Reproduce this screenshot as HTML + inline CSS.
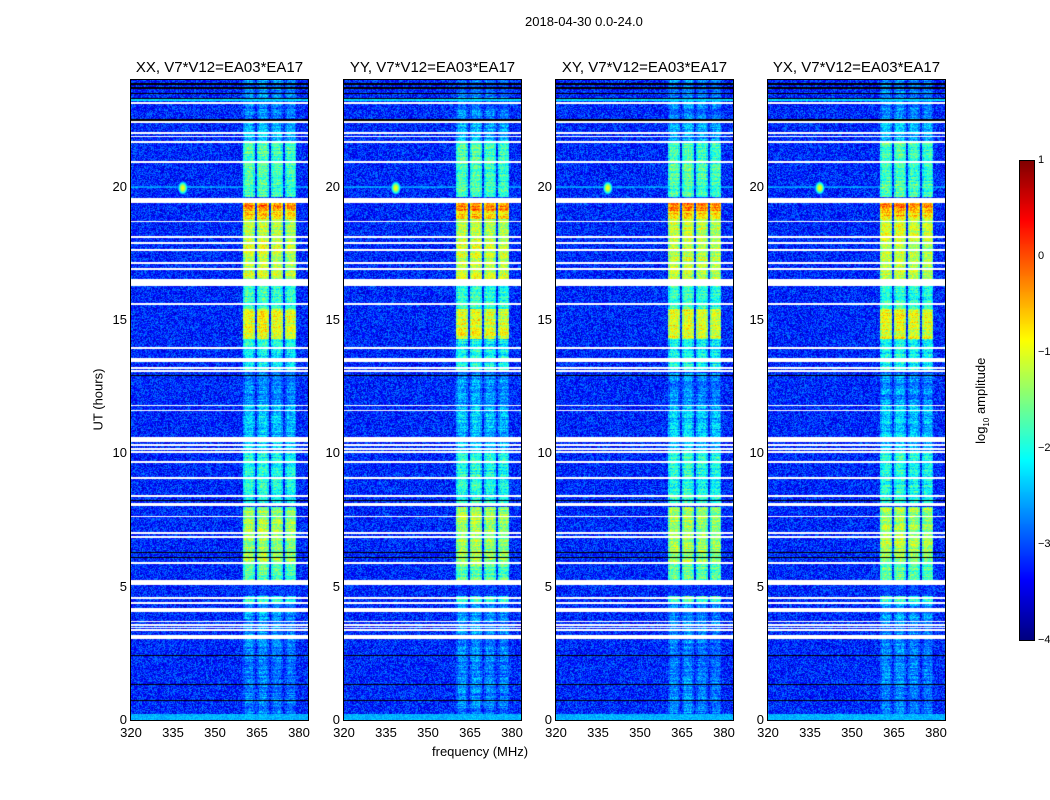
<!DOCTYPE html>
<html><head><meta charset="utf-8">
<style>
body{margin:0;background:#fff;width:1050px;height:800px;overflow:hidden;font-family:"Liberation Sans",sans-serif;}
#wrap{position:relative;width:1050px;height:800px;}
.t{position:absolute;white-space:nowrap;color:#000;}
canvas{position:absolute;}
.ax{position:absolute;border:1px solid #000;box-sizing:border-box;pointer-events:none;}
</style></head>
<body>
<div id="wrap">
<div class="t" style="left:525px;top:14px;font-size:13px;">2018-04-30 0.0-24.0</div>
<div class="t" style="left:48px;top:392px;font-size:13px;transform:rotate(-90deg);width:100px;text-align:center;">UT (hours)</div>
<div class="t" style="left:432px;top:744px;font-size:13px;">frequency (MHz)</div>
<div class="t" style="left:922px;top:392px;font-size:13px;transform:rotate(-90deg);width:120px;text-align:center;">log<sub style="font-size:8px">10</sub> amplitude</div>
<canvas id="cb" width="15" height="480" style="left:1019px;top:160px;"></canvas>
<div class="ax" style="left:1019px;top:160px;width:16px;height:481px;"></div>
</div>
<script>
// ---- data ----
const panelTitles = ["XX, V7*V12=EA03*EA17","YY, V7*V12=EA03*EA17","XY, V7*V12=EA03*EA17","YX, V7*V12=EA03*EA17"];
const xTicks = [320,335,350,365,380];
const yTicks = [0,5,10,15,20];
const cbTicks = [1,0,-1,-2,-3,-4];
// white flagged gaps: [startHour, endHour]
const gapStart = [23.10,22.40,21.98,21.85,21.64,20.89,19.40,18.66,18.08,17.85,17.60,17.10,16.88,16.28,15.57,13.92,13.42,13.18,13.06,11.77,11.58,10.44,10.29,10.13,10.02,9.64,9.04,8.38,8.03,7.60,6.98,6.83,5.85,5.08,4.54,4.35,4.04,3.67,3.54,3.44,3.35,3.05];
const gapEnd   = [23.16,22.46,22.04,21.91,21.70,20.95,19.58,18.72,18.14,17.91,17.66,17.16,16.94,16.52,15.63,13.98,13.58,13.24,13.12,11.83,11.64,10.62,10.35,10.19,10.08,9.70,9.10,8.44,8.15,7.66,7.04,6.89,5.91,5.24,4.60,4.41,4.20,3.73,3.60,3.50,3.41,3.20];
// black (zero) lines, hours
const blackLines = [23.87,23.72,23.52,23.33,22.52,12.94,8.25,6.29,6.10,2.44,1.34,0.75];
// band (RFI channel) time segments with log10 amplitude
const segStart = [0,3.2,4.4,5.25,5.9,8.1,10.0,11.8,13.1,14.3,15.4,16.5,18.8,19.1,19.6,21.7,22.38,22.5];
const segEnd   = [3.05,4.4,4.65,5.9,8.0,10.0,11.8,13.0,14.3,15.4,16.3,18.8,19.1,19.4,21.7,22.38,22.5,24];
const segLevel = [-2.8,-2.7,-1.9,-1.7,-1.35,-2.0,-2.4,-2.7,-2.1,-1.0,-1.9,-1.2,-0.7,-0.3,-1.8,-2.5,-0.7,-2.8];
// channel frequency ranges (MHz)
const chanLo = [360,365,370,375];
const chanHi = [364.2,369.2,374.2,379];
const chanGain = [0.05,0.1,0,-0.05];
// full-width row features [start,end,level]
const rowStart = [23.2,0,20.0,19.95];
const rowEnd   = [23.32,0.22,20.02,19.98];
const rowLevel = [-2.3,-2.5,-2.7,-2.6];
const bgLevel = -3.2;
// ---- layout ----
const panelLeft = [131,344,556,768];
const pw=177, ph=640, top0=80;
const fMin=320, fMax=383.2, tMax=24;
const fx = f => (f-fMin)/(fMax-fMin)*pw;
const ty = h => ph - h/tMax*ph;
function jet(t){t=Math.max(0,Math.min(1,t));
 const r=Math.max(0,Math.min(1,1.5-Math.abs(4*t-3))),g=Math.max(0,Math.min(1,1.5-Math.abs(4*t-2))),b=Math.max(0,Math.min(1,1.5-Math.abs(4*t-1)));
 return [r*255|0,g*255|0,b*255|0];}
function hash(x,y,s){let n=(x*374761393+y*668265263+s*2147483647)|0;n=(n^(n>>>13))*1274126177|0;return ((n^(n>>>16))>>>0)/4294967296;}
const wrap=document.getElementById('wrap');
function addText(txt,x,y,size,name,align){const d=document.createElement('div');d.className='t';d.textContent=txt;
 d.style.fontSize=size+'px';d.style.top=y+'px';
 if(align==='c'){d.style.left=(x-100)+'px';d.style.width='200px';d.style.textAlign='center';}
 else if(align==='r'){d.style.left=(x-60)+'px';d.style.width='60px';d.style.textAlign='right';}
 else d.style.left=x+'px';
 
 
 wrap.appendChild(d);}
panelLeft.forEach((L,p)=>{
 const c=document.createElement('canvas');c.width=pw;c.height=ph;c.style.left=L+'px';c.style.top=top0+'px';
 
 
 wrap.appendChild(c);
 const ctx=c.getContext('2d');const img=ctx.createImageData(pw,ph);
 for(let y=0;y<ph;y++){
  const h=(ph-y-0.5)/ph*tMax;
  let gap=false;for(let i=0;i<gapStart.length;i++) if(h>=gapStart[i]&&h<=gapEnd[i]) gap=true;
  let blk=false;for(const b of blackLines) if(Math.abs(ty(b)-y)<0.6) blk=true;
  let seg=-3.3;for(let i=0;i<segStart.length;i++) if(h>=segStart[i]&&h<segEnd[i]) seg=segLevel[i];
  let row=-9;for(let i=0;i<rowStart.length;i++) if(h>=rowStart[i]&&h<rowEnd[i]) row=rowLevel[i];
  const rowVar=(hash(y,5,p+11)-0.5)*0.5;
  for(let x=0;x<pw;x++){
   const k=(y*pw+x)*4;let col;
   if(gap) col=[255,255,255]; else if(blk) col=[0,0,0]; else {
    const f=fMin+(x+0.5)/pw*(fMax-fMin);
    let v=bgLevel+(hash(x>>0,y,p)-0.5)*1.0;
    for(let i=0;i<chanLo.length;i++) if(f>=chanLo[i]&&f<=chanHi[i]){
      const edge=Math.min(f-chanLo[i],chanHi[i]-f)<0.6?-0.3:0;
      const sv=seg+chanGain[i]+edge+rowVar+(hash(x,y,p+7)-0.5)*0.8; if(sv>v) v=sv;}
    if(row>v) v=row+(hash(x,y,p+3)-0.5)*0.4;
    const dx=(f-338.5)/0.7, dy=(h-19.95)/0.1; const sp=-0.9-0.35*(dx*dx+dy*dy); if(sp>v) v=sp;
    col=jet((v+4)/5);}
   img.data[k]=col[0];img.data[k+1]=col[1];img.data[k+2]=col[2];img.data[k+3]=255;}
 }
 ctx.putImageData(img,0,0);
 const fr=document.createElement('div');fr.className='ax';fr.style.left=(L-1)+'px';fr.style.top=(top0-1)+'px';fr.style.width=(pw+2)+'px';fr.style.height=(ph+2)+'px';
 
 
 wrap.appendChild(fr);
 addText(panelTitles[p],L+pw/2,59,15,'panel-title-'+(p+1),'c');
 xTicks.forEach(v=>{addText(String(v),L+fx(v),725,13,'x-tick-label','c');});
 yTicks.forEach(v=>{addText(String(v),L-4,top0+ty(v)-8,13,'y-tick-label','r');});
});
// colorbar
const cb=document.getElementById('cb').getContext('2d');
for(let y=0;y<480;y++){const c=jet(1-(y+0.5)/480);cb.fillStyle=`rgb(${c[0]},${c[1]},${c[2]})`;cb.fillRect(0,y,15,1);}
cbTicks.forEach(v=>{addText(String(v).replace('-','\u2212'),1038,160+(1-v)/5*480-6,11,'colorbar-tick-label');});
</script>
</body></html>
